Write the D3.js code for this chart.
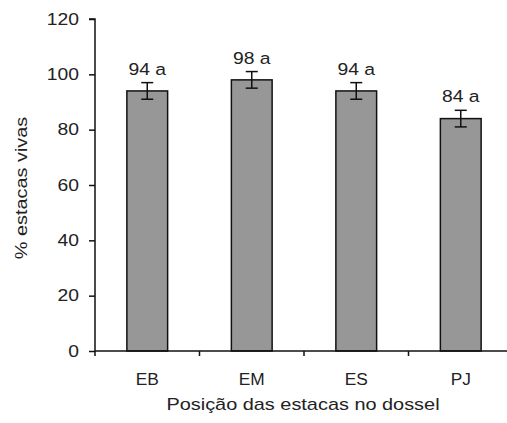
<!DOCTYPE html>
<html><head><meta charset="utf-8">
<script src="https://cdn.jsdelivr.net/npm/d3@7"></script>
<style>body{margin:0;background:#fff}svg{display:block}</style>
</head><body>
<svg id="c" width="507" height="423"></svg>
<script>
const categories = ["EB", "EM", "ES", "PJ"];
const values = [94, 98, 94, 84];
const errors = [3, 3, 3, 3];
const letters = ["a", "a", "a", "a"];
const yTicks = [0, 20, 40, 60, 80, 100, 120];
const xTitle = "Posição das estacas no dossel";
const yTitle = "% estacas vivas";

const svg = d3.select("#c");
const font = "'Liberation Sans', Arial, sans-serif";
const SX = 1.17;
const x = d3.scaleBand().domain(categories).range([95, 513]).padding(0);
const y = d3.scaleLinear().domain([0, 120]).range([351, 19]);
const bw = x.bandwidth() * 0.39;

// bars
svg.selectAll("rect.bar").data(values).enter().append("rect")
  .attr("x", (d, i) => x(categories[i]) + x.bandwidth() / 2 - bw / 2)
  .attr("y", d => y(d))
  .attr("width", bw)
  .attr("height", d => y(0) - y(d))
  .attr("fill", "#979797").attr("stroke", "#111").attr("stroke-width", 1.5);

// error bars
const eb = svg.append("g").attr("stroke", "#111").attr("stroke-width", 1.5);
values.forEach((v, i) => {
  const cx = x(categories[i]) + x.bandwidth() / 2;
  eb.append("line").attr("x1", cx).attr("x2", cx).attr("y1", y(v + errors[i])).attr("y2", y(v - errors[i]));
  eb.append("line").attr("x1", cx - 6).attr("x2", cx + 6).attr("y1", y(v + errors[i])).attr("y2", y(v + errors[i]));
  eb.append("line").attr("x1", cx - 6).attr("x2", cx + 6).attr("y1", y(v - errors[i])).attr("y2", y(v - errors[i]));
  svg.append("text")
    .attr("transform", `translate(${cx},${y(v + errors[i]) - 8}) scale(${SX},1)`)
    .attr("text-anchor", "middle").attr("font-family", font).attr("font-size", 16.5)
    .attr("fill", "#222").text(`${v} ${letters[i]}`);
});

// y axis
const yAxis = svg.append("g").attr("transform", "translate(95,0)")
  .call(d3.axisLeft(y).tickValues(yTicks).tickSize(6).tickPadding(10));
yAxis.select(".domain").attr("stroke", "#111").attr("stroke-width", 1.5).attr("d", `M-6,${y(120)}H0V${y(0) + 5}`);
yAxis.selectAll(".tick line").attr("stroke", "#111").attr("stroke-width", 1.5);
yAxis.selectAll(".tick text").attr("font-family", font).attr("font-size", 16.5).attr("fill", "#222")
  .each(function () {
    const t = d3.select(this);
    t.attr("transform", `translate(${-16},0) scale(${SX},1)`).attr("x", 0);
  });

// x axis
const xa = svg.append("g");
xa.append("line").attr("x1", 95).attr("x2", 513).attr("y1", y(0)).attr("y2", y(0))
  .attr("stroke", "#111").attr("stroke-width", 1.5);
categories.forEach((c, i) => {
  const bx = x(c);
  if (i > 0) xa.append("line").attr("x1", bx).attr("x2", bx).attr("y1", y(0)).attr("y2", y(0) + 5)
    .attr("stroke", "#111").attr("stroke-width", 1.5);
  xa.append("text")
    .attr("transform", `translate(${bx + x.bandwidth() / 2},385) scale(1.05,1)`)
    .attr("text-anchor", "middle").attr("font-family", font).attr("font-size", 16.5)
    .attr("fill", "#222").text(c);
});

// titles
svg.append("text").attr("transform", `translate(303,410) scale(${SX},1)`)
  .attr("text-anchor", "middle").attr("font-family", font).attr("font-size", 17)
  .attr("fill", "#222").text(xTitle);
svg.append("text").attr("transform", `translate(27,188) rotate(-90) scale(${SX},1)`)
  .attr("text-anchor", "middle").attr("font-family", font).attr("font-size", 17)
  .attr("fill", "#222").text(yTitle);
</script>
</body></html>
